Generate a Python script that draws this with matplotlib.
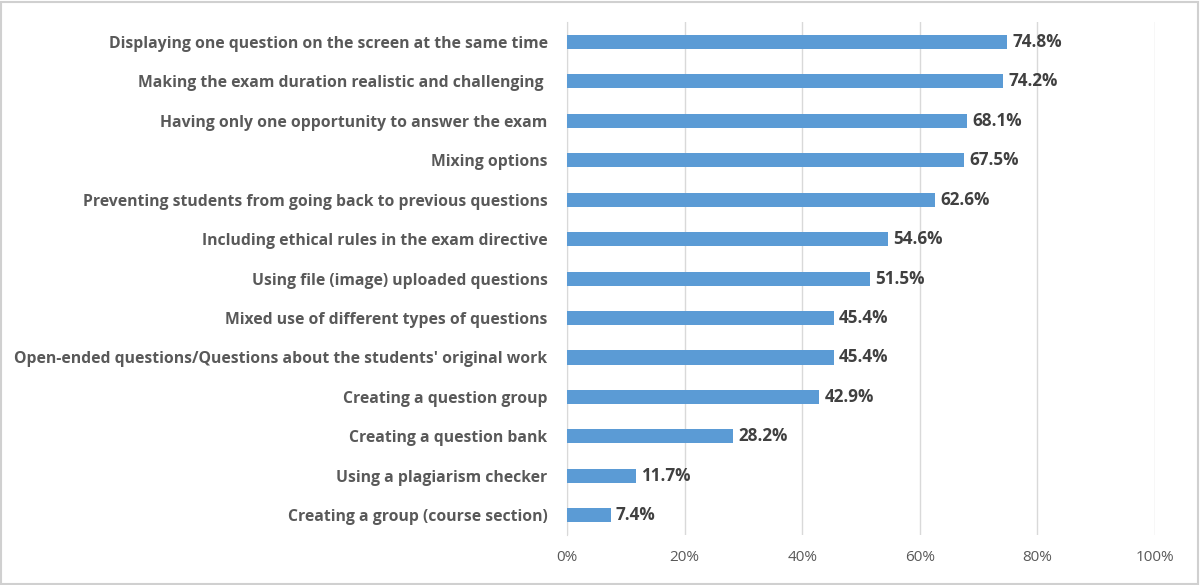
import numpy as np
import matplotlib
matplotlib.use('Agg')
import matplotlib.pyplot as plt
from matplotlib.patches import Rectangle

categories = [
    "Displaying one question on the screen at the same time",
    "Making the exam duration realistic and challenging ",
    "Having only one opportunity to answer the exam",
    "Mixing options",
    "Preventing students from going back to previous questions",
    "Including ethical rules in the exam directive",
    "Using file (image) uploaded questions",
    "Mixed use of different types of questions",
    "Open-ended questions/Questions about the students' original work",
    "Creating a question group",
    "Creating a question bank",
    "Using a plagiarism checker",
    "Creating a group (course section)",
]
values = [74.8, 74.2, 68.1, 67.5, 62.6, 54.6, 51.5, 45.4, 45.4, 42.9, 28.2, 11.7, 7.4]
xticks = [0, 20, 40, 60, 80, 100]


def main():
    plt.rcParams['font.family'] = ['Open Sans', 'DejaVu Sans']
    fig = plt.figure(figsize=(12, 5.85), dpi=100)
    ax = fig.add_axes([0.4725, 0.0855, 0.49, 0.8765])

    ind = np.arange(len(categories))
    ax.barh(ind, values, height=0.36, color='#5B9BD5', zorder=3)

    # value labels just past the end of each bar
    for i, v in zip(ind, values):
        ax.text(v + 0.9, i, f"{v:.1f}%", va='center', ha='left',
                fontsize=12.3, fontweight='bold', color='#404040')

    ax.set_ylim(len(categories) - 0.5, -0.5)
    ax.set_xlim(0, 100)
    ax.set_yticks(ind)
    ax.set_yticklabels(categories, fontsize=11.35, fontweight='bold', color='#595959')
    ax.set_xticks(xticks)
    ax.set_xticklabels([f"{t}%" for t in xticks], fontsize=11, color='#595959')
    ax.tick_params(axis='both', length=0)
    ax.tick_params(axis='y', pad=14)
    ax.tick_params(axis='x', pad=11)

    ax.grid(axis='x', color='#D9D9D9', linewidth=1, zorder=0)
    for s in ['top', 'right', 'bottom']:
        ax.spines[s].set_visible(False)
    ax.spines['left'].set_color('#D9D9D9')

    # light frame around the whole picture
    fig.patches.append(Rectangle((0.001, 0.002), 0.997, 0.995, transform=fig.transFigure,
                                 fill=False, edgecolor='#D0D0D0', linewidth=1.5))

    fig.savefig("out.png", dpi=100)


if __name__ == "__main__":
    main()
